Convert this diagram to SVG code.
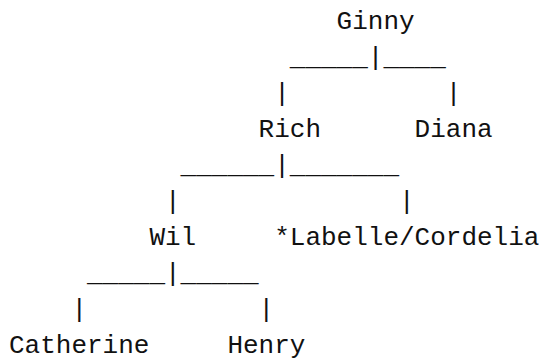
<svg xmlns="http://www.w3.org/2000/svg" width="542" height="358" viewBox="0 0 542 358">
<style>
text{font-family:"Liberation Mono","Courier New",monospace;font-size:26px;fill:#111;white-space:pre}
</style>
<rect width="542" height="358" fill="#fff"/>
<g id="connectors">
<text x="289.8" y="64.9">_____|____</text>
<text x="274.2" y="100.9">|</text>
<text x="445.8" y="100.9">|</text>
<text x="180.6" y="172.8">______|_______</text>
<text x="165" y="208.7">|</text>
<text x="399" y="208.7">|</text>
<text x="87" y="280.6">_____|_____</text>
<text x="71.4" y="316.5">|</text>
<text x="258.6" y="316.5">|</text>
</g>
<g id="ginny"><text x="336.6" y="29">Ginny</text></g>
<g id="rich"><text x="258.6" y="136.8">Rich</text></g>
<g id="diana"><text x="414.6" y="136.8">Diana</text></g>
<g id="wil"><text x="149.4" y="244.6">Wil</text></g>
<g id="labelle"><text x="274.2" y="244.6">*Labelle/Cordelia</text></g>
<g id="catherine"><text x="9" y="352.5">Catherine</text></g>
<g id="henry"><text x="227.4" y="352.5">Henry</text></g>
</svg>
